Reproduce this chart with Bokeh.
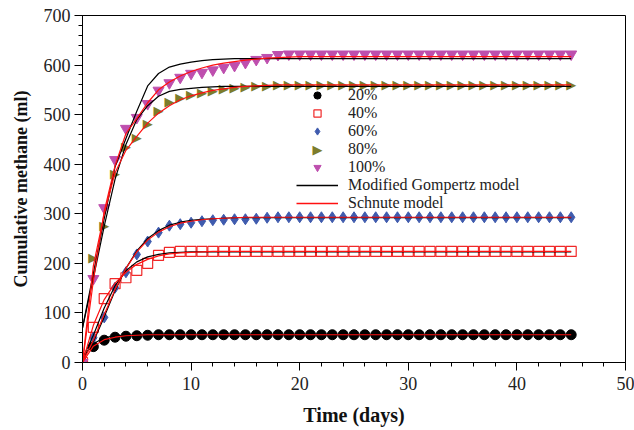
import math
from bokeh.plotting import figure
from bokeh.models import Range1d, Legend, LegendItem, FixedTicker, Label
from bokeh.core.properties import value
from bokeh.embed import file_html
from bokeh.resources import INLINE

days = list(range(46))

# measured data (ml)
d20 = [0, 32, 45, 51, 53, 54, 55, 56, 56, 56, 56, 56, 56, 56, 56, 56, 56, 56, 56, 56, 56, 56, 56,
       56, 56, 56, 56, 56, 56, 56, 56, 56, 56, 56, 56, 56, 56, 56, 56, 56, 56, 56, 56, 56, 56, 56]
d40 = [0, 71, 129, 159, 171, 186, 200, 216, 222, 224, 224, 224, 224, 224, 224, 224, 224, 224, 224, 224, 224, 224, 224,
       224, 224, 224, 224, 224, 224, 224, 224, 224, 224, 224, 224, 224, 224, 224, 224, 224, 224, 224, 224, 224, 224, 224]
d60 = [0, 50, 91, 151, 182, 218, 244, 262, 276, 279, 282, 285, 287, 288, 289, 289, 290, 292, 293, 293, 293, 293, 293,
       293, 293, 293, 293, 293, 293, 293, 293, 293, 293, 293, 293, 293, 293, 293, 293, 293, 293, 293, 293, 293, 293, 293]
d80 = [0, 212, 276, 382, 436, 453, 482, 509, 527, 535, 540, 545, 549, 552, 554, 557, 558, 559, 560, 560, 560, 560, 560,
       560, 560, 560, 560, 560, 560, 560, 560, 560, 560, 560, 560, 560, 560, 560, 560, 560, 560, 560, 560, 560, 560, 560]
d100 = [0, 169, 312, 409, 472, 494, 522, 549, 564, 575, 583, 585, 590, 595, 599, 605, 611, 615, 621, 622, 622, 622, 622,
        622, 622, 622, 622, 622, 622, 622, 622, 622, 622, 622, 622, 622, 622, 622, 622, 622, 622, 622, 622, 622, 622, 622]

# Modified Gompertz model curves
g20 = [10, 38, 50, 54, 55, 56, 56, 56, 56, 56, 56, 56, 56, 56, 56, 56, 56, 56, 56, 56, 56, 56, 56,
       56, 56, 56, 56, 56, 56, 56, 56, 56, 56, 56, 56, 56, 56, 56, 56, 56, 56, 56, 56, 56, 56, 56]
g40 = [8, 55, 110, 155, 185, 203, 213, 218, 221, 222, 223, 223, 223, 223, 223, 223, 223, 223, 223, 223, 223, 223, 223,
       223, 223, 223, 223, 223, 223, 223, 223, 223, 223, 223, 223, 223, 223, 223, 223, 223, 223, 223, 223, 223, 223, 223]
g60 = [5, 42, 92, 145, 190, 225, 250, 266, 277, 283, 287, 289, 290, 291, 292, 292, 292, 292, 292, 292, 292, 292, 292,
       292, 292, 292, 292, 292, 292, 292, 292, 292, 292, 292, 292, 292, 292, 292, 292, 292, 292, 292, 292, 292, 292, 292]
g80 = [70, 170, 275, 370, 440, 490, 518, 537, 547, 551, 553, 555, 556, 557, 557, 557, 557, 557, 557, 557, 557, 557, 557,
       557, 557, 557, 557, 557, 557, 557, 557, 557, 557, 557, 557, 557, 557, 557, 557, 557, 557, 557, 557, 557, 557, 557]
g100 = [70, 180, 290, 395, 452, 507, 558, 583, 596, 602, 606, 609, 611, 612, 613, 613, 613, 613, 613, 613, 613, 613, 613,
        613, 613, 613, 613, 613, 613, 613, 613, 613, 613, 613, 613, 613, 613, 613, 613, 613, 613, 613, 613, 613, 613, 613]

# Schnute model curves
s20 = [0, 33, 46, 51, 54, 55, 56, 56, 56, 56, 56, 56, 56, 56, 56, 56, 56, 56, 56, 56, 56, 56, 56,
       56, 56, 56, 56, 56, 56, 56, 56, 56, 56, 56, 56, 56, 56, 56, 56, 56, 56, 56, 56, 56, 56, 56]
s40 = [0, 75, 127, 160, 182, 198, 208, 215, 219, 221, 222, 223, 224, 224, 224, 224, 224, 224, 224, 224, 224, 224, 224,
       224, 224, 224, 224, 224, 224, 224, 224, 224, 224, 224, 224, 224, 224, 224, 224, 224, 224, 224, 224, 224, 224, 224]
s60 = [0, 45, 97, 147, 190, 223, 247, 263, 274, 281, 285, 288, 290, 291, 292, 293, 293, 293, 293, 293, 293, 293, 293,
       293, 293, 293, 293, 293, 293, 293, 293, 293, 293, 293, 293, 293, 293, 293, 293, 293, 293, 293, 293, 293, 293, 293]
s80 = [0, 195, 300, 383, 428, 456, 483, 503, 518, 530, 538, 544, 549, 552, 555, 557, 558, 559, 560, 560, 560, 560, 560,
       560, 560, 560, 560, 560, 560, 560, 560, 560, 560, 560, 560, 560, 560, 560, 560, 560, 560, 560, 560, 560, 560, 560]
s100 = [0, 165, 305, 397, 462, 492, 524, 550, 566, 578, 587, 594, 600, 604, 607, 610, 612, 614, 615, 616, 617, 617, 617,
        617, 617, 617, 617, 617, 617, 617, 617, 617, 617, 617, 617, 617, 617, 617, 617, 617, 617, 617, 617, 617, 617, 617]

labels = ["20%", "40%", "60%", "80%", "100%", "Modified Gompertz model", "Schnute model"]
x_ticks = [0, 10, 20, 30, 40, 50]
y_ticks = [0, 100, 200, 300, 400, 500, 600, 700]

FONT = "Liberation Serif"
OLIVE = "#7C7C2C"
RED = "#FF1010"
TRI = "\u25B6"
NAN = float("nan")

p = figure(width=634, height=430, output_backend="svg", toolbar_location=None,
           x_range=Range1d(0, 50), y_range=Range1d(0, 700),
           min_border_left=82, min_border_right=9, min_border_top=15, min_border_bottom=68)
p.grid.visible = False
p.outline_line_color = "black"
p.outline_line_width = 1
p.background_fill_color = "white"

for ax in (p.xaxis[0], p.yaxis[0]):
    ax.axis_line_color = "black"
    ax.major_tick_line_color = "black"
    ax.minor_tick_line_color = "black"
    ax.major_tick_out = 8
    ax.major_tick_in = 0
    ax.minor_tick_out = 4
    ax.minor_tick_in = 0
    ax.major_label_text_font = FONT
    ax.major_label_text_font_size = "18px"
    ax.major_label_text_color = "#222222"
    ax.axis_label_text_font = FONT
    ax.axis_label_text_font_style = "bold"
    ax.axis_label_text_color = "#111111"

p.xaxis.axis_label_text_font_size = "20px"
p.yaxis.axis_label_text_font_size = "18px"
p.xaxis.ticker = FixedTicker(ticks=x_ticks, minor_ticks=[i * 2 for i in range(26)])
p.yaxis.ticker = FixedTicker(ticks=y_ticks, minor_ticks=[i * 20 for i in range(36)])
p.xaxis.axis_label = "Time (days)"
p.yaxis.axis_label = "Cumulative methane (ml)"
p.xaxis.major_label_standoff = 6
p.yaxis.major_label_standoff = 4
p.xaxis.axis_label_standoff = 11
p.yaxis.axis_label_standoff = 10

r20 = p.scatter(days, d20, marker="circle", size=10, fill_color="black", line_color="black")
r40 = p.scatter(days, d40, marker="square", size=10, fill_color=None, line_color="#F02828", line_width=1.2)
r60 = p.scatter(days, d60, marker="diamond", size=11, fill_color="#3F5BAE", line_color="#3F5BAE")
# right-pointing triangles drawn as a glyph character
p.text(days, d80, text=[TRI] * len(days), text_font=value("DejaVu Sans"), text_font_size="13px",
       text_align="center", text_baseline="middle", text_color=OLIVE)
r80 = p.scatter([days[0]], [d80[0]], marker="triangle", size=1, fill_alpha=0, line_alpha=0)
r100 = p.scatter(days, d100, marker="inverted_triangle", size=11, fill_color="#BE4FAE", line_color="#BE4FAE")

for g in (g20, g40, g60, g80, g100):
    p.line(days, g, line_color="black", line_width=1.2)
for s in (s20, s40, s60, s80, s100):
    p.line(days, s, line_color=RED, line_width=1.2)

# legend-only line renderers (a single undefined point, nothing drawn in the plot)
gr = p.line([NAN], [NAN], line_color="black", line_width=1.3)
sr = p.line([NAN], [NAN], line_color=RED, line_width=1.3)

items = [LegendItem(label=labels[0], renderers=[r20]),
         LegendItem(label=labels[1], renderers=[r40]),
         LegendItem(label=labels[2], renderers=[r60]),
         LegendItem(label=labels[3], renderers=[r80]),
         LegendItem(label=labels[4], renderers=[r100]),
         LegendItem(label=labels[5], renderers=[gr]),
         LegendItem(label=labels[6], renderers=[sr])]
legend = Legend(items=items, location=(214, 150), padding=0, margin=0, spacing=0,
                label_height=18, glyph_height=18, glyph_width=42, label_standoff=10,
                label_text_font=FONT, label_text_font_size="16px", label_text_color="#222222",
                border_line_alpha=0, background_fill_alpha=0)
p.add_layout(legend, "center")

# legend symbol for the 80% row (centre of that legend row)
p.add_layout(Label(x=235, y=213, x_units="screen", y_units="screen", text=TRI,
                   text_font="DejaVu Sans", text_font_size="13px", text_color=OLIVE,
                   text_align="center", text_baseline="middle"))

open("out.html", "w").write(file_html(p, INLINE))
